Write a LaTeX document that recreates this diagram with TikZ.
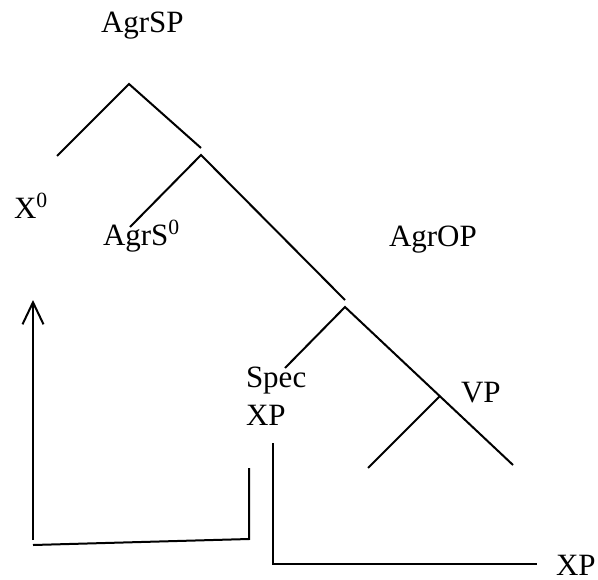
\documentclass[tikz,border=0pt]{standalone}
\usepackage{fontspec}
\setmainfont{Liberation Serif}
\usetikzlibrary{arrows.meta}
\tikzset{>={Straight Barb[length=8.8pt,width=8.4pt]}}

\begin{document}
\begin{tikzpicture}[x=0.4pt, y=-0.4pt, line width=0.8pt,
  lbl/.style={anchor=base west, inner sep=0pt, font=\fontsize{12.4}{15.2}\selectfont}]
  \useasboundingbox (0,0) rectangle (598,579);

  % tree points
  \coordinate (sp)    at (129, 84);
  \coordinate (spL)   at (57, 156);
  \coordinate (spR)   at (201, 148);
  \coordinate (agrs)  at (201, 155);
  \coordinate (agrsL) at (130, 227);
  \coordinate (agrsR) at (345, 300);
  \coordinate (op)    at (345, 307);
  \coordinate (opL)   at (285, 368);
  \coordinate (opR)   at (513, 465);
  \coordinate (vp)    at (440, 396);
  \coordinate (vpL)   at (368, 468);

  \draw (spL) -- (sp) -- (spR);
  \draw (agrsL) -- (agrs) -- (agrsR);
  \draw (opL) -- (op) -- (opR);
  \draw (vp) -- (vpL);

  \node[lbl] (agrsp)  at (100, 33)  {AgrSP};
  \node[lbl] (xzero)  at (13, 218)  {X\textsuperscript{0}};
  \node[lbl] (agrszero) at (102, 245) {AgrS\textsuperscript{0}};
  \node[lbl] (agrop)  at (388, 246) {AgrOP};
  \node[lbl] (spec)   at (245, 387) {Spec};
  \node[lbl] (specxp) at (245, 425) {XP};
  \node[lbl] (vplbl)  at (460, 402) {VP};
  \node[lbl] (xp)     at (555, 575) {XP};

  % movement paths
  \coordinate (tS) at (249, 468);
  \coordinate (tC) at (249, 539);
  \coordinate (tL) at (33, 545);
  \coordinate (upS) at (33, 540);
  \coordinate (upE) at (33, 300);
  \coordinate (mvS) at (273, 443);
  \coordinate (mvC) at (273, 564);
  \coordinate (mvE) at (537, 564);

  \draw (tS) -- (tC) -- (tL);
  \draw[->] (upS) -- (upE);
  \draw (mvS) -- (mvC) -- (mvE);
\end{tikzpicture}
\end{document}
